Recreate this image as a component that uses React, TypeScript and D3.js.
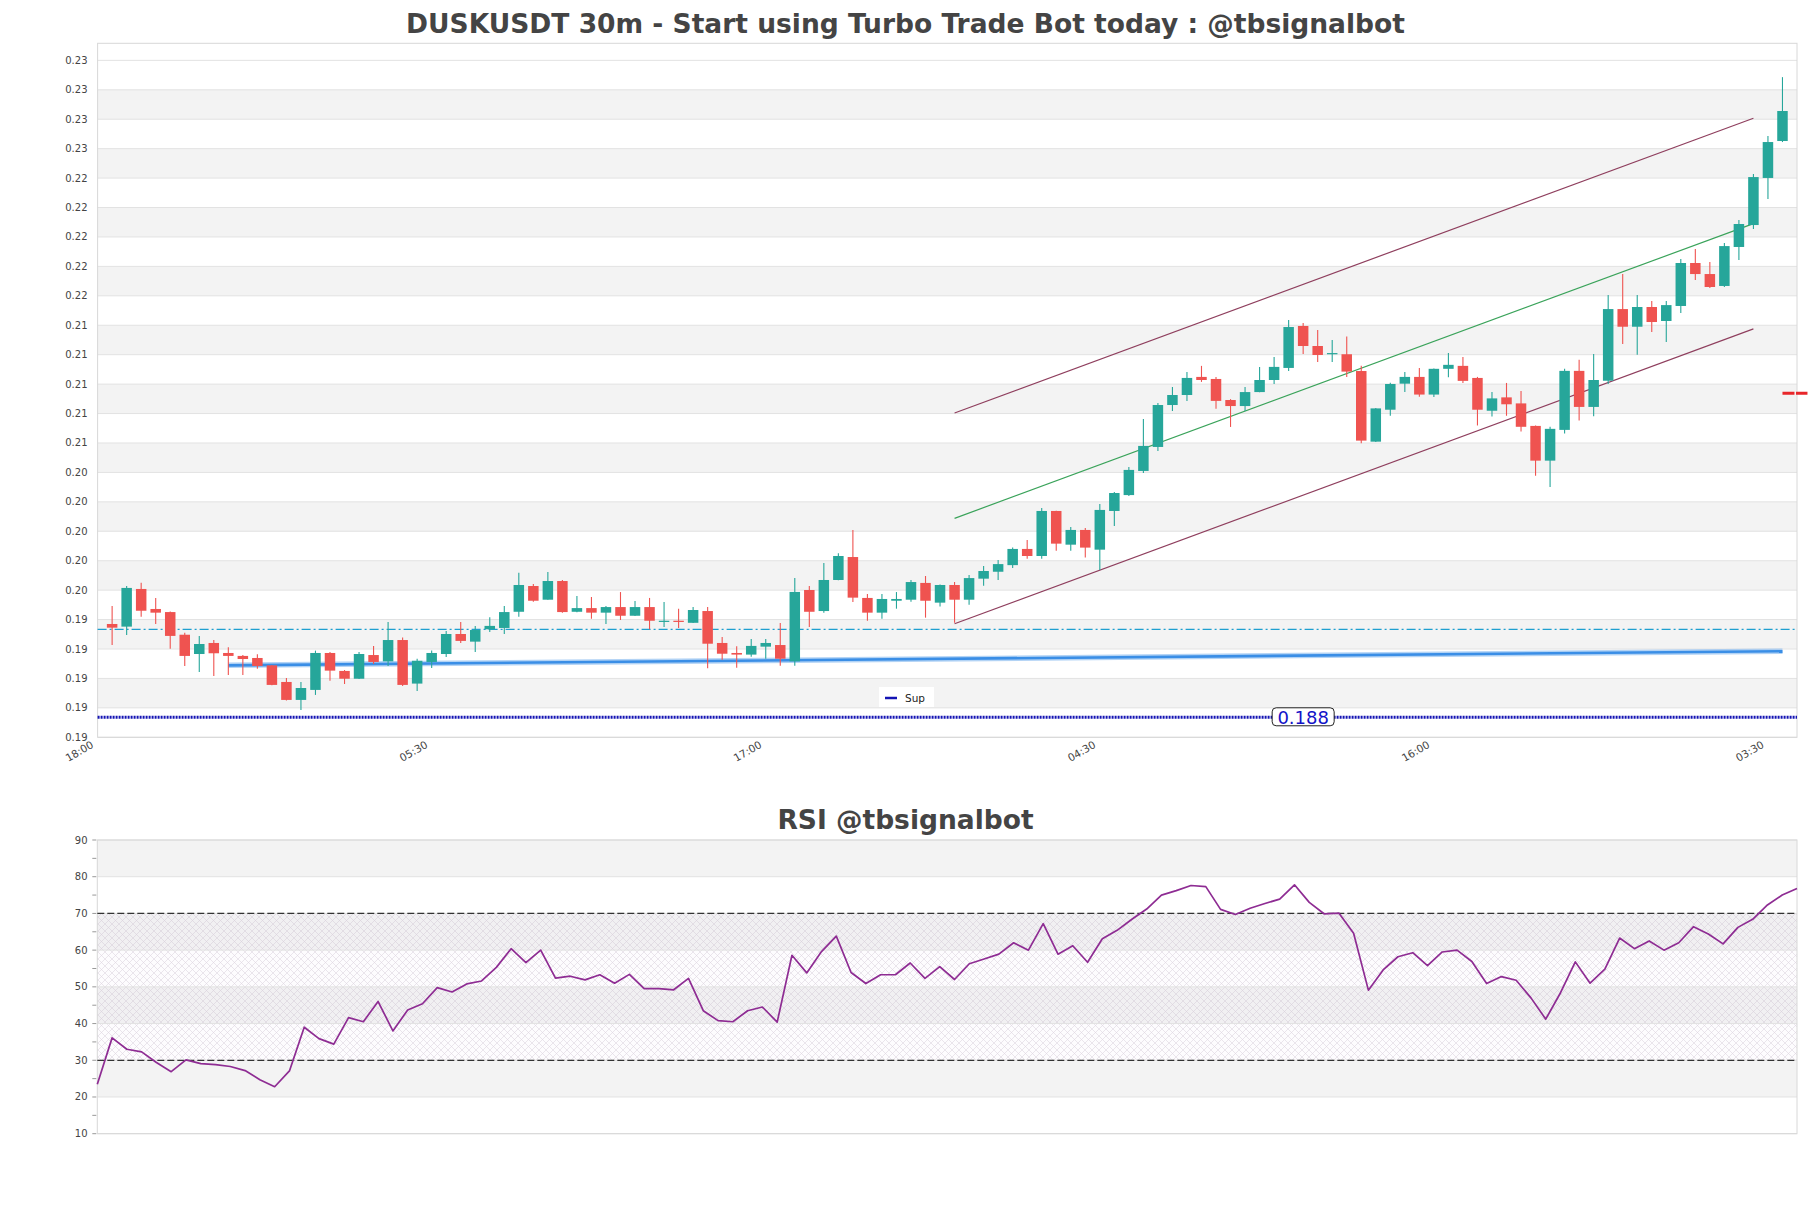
import React, { useRef, useEffect } from "react";
import * as d3 from "d3";

// 30m candles, first one at 18:30
const START = new Date(2024, 0, 1, 18, 30);
const STEP = 30 * 60 * 1000;
const TICK_EVERY = 23; // one x label every 11h30

const OPEN = [
  0.1937, 0.19352, 0.19608, 0.19472, 0.19451, 0.19297, 0.19166, 0.19241, 0.19173, 0.19153,
  0.19139, 0.19089, 0.18976, 0.18854, 0.18922, 0.19173, 0.19051, 0.18998, 0.19159, 0.19116,
  0.19261, 0.18965, 0.19112, 0.19166, 0.19302, 0.1925, 0.19334, 0.19343, 0.19453, 0.19628,
  0.19535, 0.19662, 0.19453, 0.19478, 0.19447, 0.19485, 0.19426, 0.19485, 0.19385, 0.19392,
  0.19378, 0.19458, 0.19241, 0.19173, 0.19162, 0.19216, 0.19227, 0.19116, 0.19601, 0.19458,
  0.19669, 0.19825, 0.19547, 0.19447, 0.19528, 0.19535, 0.19649, 0.19515, 0.19635, 0.19535,
  0.19678, 0.19725, 0.1977, 0.1988, 0.19832, 0.20138, 0.19909, 0.20009, 0.19875, 0.20138,
  0.20246, 0.2041, 0.20573, 0.20858, 0.20926, 0.21049, 0.21035, 0.20892, 0.20851, 0.20946,
  0.21028, 0.2111, 0.21395, 0.21259, 0.21203, 0.21203, 0.21089, 0.20609, 0.20826, 0.21003,
  0.21049, 0.20929, 0.21104, 0.21124, 0.21042, 0.20819, 0.2091, 0.20869, 0.20716, 0.2048,
  0.20689, 0.2109, 0.20845, 0.21023, 0.2151, 0.2139, 0.21524, 0.21429, 0.21531, 0.21823,
  0.21748, 0.21667, 0.21932, 0.22081, 0.22401, 0.22652,
];
const HIGH = [
  0.19492, 0.19628, 0.19651, 0.19547, 0.19455, 0.19311, 0.19289, 0.19261, 0.19212, 0.19159,
  0.19164, 0.19092, 0.19003, 0.18976, 0.19189, 0.1918, 0.19057, 0.1918, 0.19221, 0.19383,
  0.19279, 0.19134, 0.19189, 0.19323, 0.19383, 0.19357, 0.19415, 0.19492, 0.19719, 0.19642,
  0.19723, 0.19669, 0.1956, 0.19553, 0.19492, 0.19587, 0.19526, 0.19547, 0.19519, 0.19474,
  0.19485, 0.19485, 0.19281, 0.19218, 0.19268, 0.19268, 0.19377, 0.19683, 0.19628, 0.19785,
  0.1985, 0.20009, 0.19574, 0.19574, 0.19587, 0.19669, 0.19696, 0.19638, 0.19655, 0.19703,
  0.19764, 0.19805, 0.19889, 0.19941, 0.20158, 0.2014, 0.20029, 0.20022, 0.20185, 0.20267,
  0.20437, 0.20763, 0.20872, 0.20981, 0.21083, 0.21124, 0.21049, 0.20898, 0.2098, 0.21117,
  0.21185, 0.21436, 0.21415, 0.21368, 0.213, 0.21323, 0.21124, 0.20837, 0.2101, 0.21083,
  0.2111, 0.21106, 0.21212, 0.21185, 0.21049, 0.20946, 0.21008, 0.20953, 0.20718, 0.2071,
  0.21104, 0.21165, 0.21205, 0.21606, 0.21748, 0.21606, 0.21565, 0.21565, 0.2185, 0.21918,
  0.2183, 0.21959, 0.22115, 0.22428, 0.22686, 0.23086,
];
const LOW = [
  0.19227, 0.19295, 0.1942, 0.1937, 0.19202, 0.19085, 0.19044, 0.19017, 0.19024, 0.19024,
  0.19066, 0.18954, 0.1885, 0.18786, 0.18888, 0.18985, 0.18962, 0.18996, 0.19098, 0.19085,
  0.18949, 0.18915, 0.19071, 0.19146, 0.19241, 0.1918, 0.19316, 0.19302, 0.1942, 0.19521,
  0.19535, 0.19447, 0.1945, 0.19406, 0.1937, 0.19397, 0.19424, 0.19334, 0.1935, 0.19343,
  0.19376, 0.19069, 0.19127, 0.19072, 0.19148, 0.19134, 0.19087, 0.19087, 0.1935, 0.19447,
  0.19667, 0.19519, 0.19392, 0.19406, 0.19474, 0.19521, 0.19413, 0.19488, 0.19378, 0.19501,
  0.1963, 0.19669, 0.1975, 0.19814, 0.19814, 0.19868, 0.19868, 0.19821, 0.19737, 0.20036,
  0.2024, 0.20396, 0.20546, 0.20818, 0.20885, 0.21015, 0.20832, 0.20709, 0.20817, 0.20944,
  0.21001, 0.2109, 0.21205, 0.2115, 0.2115, 0.21048, 0.20598, 0.20606, 0.20785, 0.20947,
  0.20914, 0.20913, 0.21046, 0.21008, 0.20719, 0.2078, 0.20785, 0.20678, 0.20377, 0.20301,
  0.20665, 0.20753, 0.20781, 0.21001, 0.21272, 0.212, 0.21354, 0.21286, 0.21483, 0.21707,
  0.21653, 0.2166, 0.21843, 0.22054, 0.22258, 0.22645,
];
const CLOSE = [
  0.19345, 0.19615, 0.1946, 0.19447, 0.19289, 0.19153, 0.19234, 0.19171, 0.19153, 0.19132,
  0.19085, 0.18956, 0.18854, 0.18935, 0.19173, 0.19053, 0.18998, 0.19166, 0.19112, 0.19261,
  0.18956, 0.1912, 0.19173, 0.19302, 0.19255, 0.19329, 0.19357, 0.19451, 0.19635, 0.19528,
  0.19662, 0.19451, 0.19478, 0.19447, 0.19485, 0.19426, 0.19485, 0.19392, 0.19392, 0.19385,
  0.19465, 0.19236, 0.19168, 0.19162, 0.19221, 0.19241, 0.19134, 0.19588, 0.19453, 0.19669,
  0.19832, 0.19549, 0.19447, 0.1954, 0.1954, 0.19655, 0.19528, 0.19635, 0.19535, 0.19682,
  0.1973, 0.19777, 0.1988, 0.19832, 0.20138, 0.19916, 0.20009, 0.19889, 0.20145, 0.2026,
  0.20417, 0.2058, 0.20858, 0.20926, 0.21042, 0.21028, 0.20886, 0.20851, 0.20946, 0.21028,
  0.21117, 0.21388, 0.21259, 0.21198, 0.21211, 0.21085, 0.20616, 0.20835, 0.21001, 0.21049,
  0.20929, 0.21104, 0.21131, 0.21022, 0.20826, 0.20903, 0.20863, 0.2071, 0.2048, 0.20696,
  0.2109, 0.20845, 0.21028, 0.2151, 0.2139, 0.21524, 0.21422, 0.21537, 0.21823, 0.21748,
  0.2166, 0.21938, 0.22088, 0.22407, 0.22645, 0.22856,
];

const RSI = [
  23.5, 36.1, 33.0, 32.3, 29.4, 26.9, 30.1, 29.1, 28.8, 28.3, 27.2,
  24.7, 22.8, 27.1, 39.0, 35.9, 34.4, 41.6, 40.5, 46.0, 38.0,
  43.7, 45.4, 49.8, 48.6, 50.8, 51.6, 55.3, 60.4, 56.6, 60.0,
  52.4, 52.9, 51.9, 53.3, 51.0, 53.4, 49.5, 49.5, 49.2, 52.3,
  43.5, 40.8, 40.5, 43.5, 44.5, 40.4, 58.6, 53.8, 59.6, 63.8,
  53.9, 50.9, 53.3, 53.3, 56.5, 52.3, 55.5, 52.0, 56.3, 57.6,
  58.9, 62.0, 60.0, 67.2, 58.9, 61.2, 56.7, 63.1, 65.4, 68.4,
  71.2, 75.0, 76.2, 77.6, 77.3, 71.1, 69.7, 71.4, 72.7, 73.9,
  77.8, 73.0, 69.9, 70.1, 64.6, 49.1, 54.6, 58.2, 59.3, 55.8,
  59.5, 60.0, 56.9, 50.9, 52.8, 51.8, 47.0, 41.2, 48.4, 56.8,
  51.0, 54.8, 63.3, 60.4, 62.5, 60.0, 62.0, 66.4, 64.4, 61.7,
  66.2, 68.4, 72.3, 75.0, 76.8,
];

const PRICE_TICKS = [
  0.186, 0.188, 0.19, 0.192, 0.194, 0.196, 0.198, 0.2, 0.202, 0.204, 0.206, 0.208,
  0.21, 0.212, 0.214, 0.216, 0.218, 0.22, 0.222, 0.224, 0.226, 0.228, 0.23, 0.232,
];
const PRICE_MAX = 0.23316;
const RSI_TICKS = [10, 20, 30, 40, 50, 60, 70, 80, 90];
const RSI_MINOR = [15, 25, 35, 45, 55, 65, 75, 85];
const RSI_BANDS = [[20, 30], [40, 50], [60, 70], [80, 90]];
const RSI_ZONE = [30, 70];

// overlays
const DASH_LEVEL = 0.19334;
const SUP_LEVEL = 0.18736;
const SUP_LABEL = "0.188";
const SUP_LABEL_IDX = 82;
const TREND_IDX = [8, 115];
const TREND_VAL = [0.19089, 0.19185];
const CHANNEL_IDX = [58, 113];
const CHANNEL_MID = [0.20088, 0.22091];
const CHANNEL_HALF = 0.00716;
const LAST_MARK = 0.20938;

const UP = "#26a69a";
const DOWN = "#ef5350";
const FONT = "DejaVu Sans, Verdana, sans-serif";

function App() {
  const svgRef = useRef<SVGSVGElement>(null);
  const width = 1811;
  const height = 1208;

  useEffect(() => {
    const svg = d3.select(svgRef.current);
    svg.selectAll("*").remove();

    const times = OPEN.map((_, i) => new Date(START.getTime() + i * STEP));
    const tAt = (i: number) => new Date(START.getTime() + i * STEP);

    // ---------- price panel ----------
    const m = { left: 97.6, right: 1797, top: 43.3, bottom: 737.3 };
    const x = d3.scaleTime()
      .domain([tAt(-1), tAt(OPEN.length)])
      .range([m.left, m.right]);
    const y = d3.scaleLinear()
      .domain([PRICE_TICKS[0], PRICE_MAX])
      .range([m.bottom, m.top]);

    const defs = svg.append("defs");
    const pat = defs.append("pattern")
      .attr("id", "rsiHatch")
      .attr("patternUnits", "userSpaceOnUse")
      .attr("width", 7)
      .attr("height", 7);
    pat.append("path")
      .attr("d", "M0,0 L7,7 M7,0 L0,7")
      .attr("stroke", "#c4b6ca")
      .attr("stroke-width", 0.55)
      .attr("opacity", 0.6);

    svg.append("text")
      .attr("x", width / 2)
      .attr("y", 32.5)
      .attr("text-anchor", "middle")
      .attr("font-family", FONT)
      .attr("font-weight", "bold")
      .attr("font-size", 26.5)
      .attr("fill", "#444")
      .text("DUSKUSDT 30m - Start using Turbo Trade Bot today : @tbsignalbot");

    const pg = svg.append("g");

    // alternating bands
    pg.append("g")
      .selectAll("rect")
      .data(PRICE_TICKS.slice(0, -1).map((t, i) => [t, PRICE_TICKS[i + 1], i]).filter(d => d[2] % 2 === 1))
      .join("rect")
      .attr("x", m.left)
      .attr("width", m.right - m.left)
      .attr("y", d => y(d[1]))
      .attr("height", d => y(d[0]) - y(d[1]))
      .attr("fill", "#f3f3f3");

    pg.append("g")
      .selectAll("line")
      .data(PRICE_TICKS)
      .join("line")
      .attr("x1", m.left)
      .attr("x2", m.right)
      .attr("y1", d => y(d))
      .attr("y2", d => y(d))
      .attr("stroke", "#e2e2e2");

    pg.append("rect")
      .attr("x", m.left)
      .attr("y", m.top)
      .attr("width", m.right - m.left)
      .attr("height", m.bottom - m.top)
      .attr("fill", "none")
      .attr("stroke", "#d8d8d8");

    pg.append("g")
      .selectAll("text")
      .data(PRICE_TICKS)
      .join("text")
      .attr("x", 87.5)
      .attr("y", d => y(d))
      .attr("dy", "0.35em")
      .attr("text-anchor", "end")
      .attr("font-family", FONT)
      .attr("font-size", 10)
      .attr("fill", "#444")
      .text(d => d3.format(".2f")(d));

    // x labels
    const xTicks = d3.range(6).map(k => tAt(-1 + k * TICK_EVERY));
    pg.append("g")
      .selectAll("text")
      .data(xTicks)
      .join("text")
      .attr("transform", d => `translate(${x(d) - 7},${m.bottom + 3}) rotate(-30)`)
      .attr("dy", "0.72em")
      .attr("text-anchor", "end")
      .attr("font-family", FONT)
      .attr("font-size", 10.5)
      .attr("fill", "#444")
      .text(d => d3.timeFormat("%H:%M")(d));

    // support / resistance levels
    pg.append("line")
      .attr("x1", m.left).attr("x2", m.right)
      .attr("y1", y(DASH_LEVEL)).attr("y2", y(DASH_LEVEL))
      .attr("stroke", "#1e9fd0")
      .attr("stroke-width", 1.3)
      .attr("stroke-dasharray", "9 3 2 3");

    pg.append("line")
      .attr("x1", m.left).attr("x2", m.right)
      .attr("y1", y(SUP_LEVEL)).attr("y2", y(SUP_LEVEL))
      .attr("stroke", "#1414b4")
      .attr("stroke-width", 3)
      .attr("stroke-dasharray", "2 1");

    // rising trend line (glow + core)
    const trend = TREND_IDX.map((t, i) => [x(tAt(t)), y(TREND_VAL[i])]);
    pg.append("line")
      .attr("x1", trend[0][0]).attr("y1", trend[0][1])
      .attr("x2", trend[1][0]).attr("y2", trend[1][1])
      .attr("stroke", "#7fb6f0")
      .attr("stroke-width", 5.5)
      .attr("opacity", 0.6);
    pg.append("line")
      .attr("x1", trend[0][0]).attr("y1", trend[0][1])
      .attr("x2", trend[1][0]).attr("y2", trend[1][1])
      .attr("stroke", "#3a8ee6")
      .attr("stroke-width", 2.6);

    // regression channel
    const channel = [
      { off: CHANNEL_HALF, color: "#8f3f5e" },
      { off: 0, color: "#3aa35a" },
      { off: -CHANNEL_HALF, color: "#8f3f5e" },
    ];
    pg.append("g")
      .selectAll("line")
      .data(channel)
      .join("line")
      .attr("x1", x(tAt(CHANNEL_IDX[0])))
      .attr("x2", x(tAt(CHANNEL_IDX[1])))
      .attr("y1", d => y(CHANNEL_MID[0] + d.off))
      .attr("y2", d => y(CHANNEL_MID[1] + d.off))
      .attr("stroke", d => d.color)
      .attr("stroke-width", 1.2);

    // candles
    const bodyW = 10.5;
    const cg = pg.append("g")
      .selectAll("g")
      .data(times.map((t, i) => ({ t, o: OPEN[i], h: HIGH[i], l: LOW[i], c: CLOSE[i] })))
      .join("g");
    cg.append("line")
      .attr("x1", d => x(d.t))
      .attr("x2", d => x(d.t))
      .attr("y1", d => y(d.h))
      .attr("y2", d => y(d.l))
      .attr("stroke", d => (d.c >= d.o ? UP : DOWN))
      .attr("stroke-width", 1.1);
    cg.append("rect")
      .attr("x", d => x(d.t) - bodyW / 2)
      .attr("width", bodyW)
      .attr("y", d => y(Math.max(d.o, d.c)))
      .attr("height", d => Math.max(1.2, Math.abs(y(d.o) - y(d.c))))
      .attr("fill", d => (d.c >= d.o ? UP : DOWN));

    // last price marker
    pg.append("line")
      .attr("x1", x(tAt(OPEN.length - 1)))
      .attr("x2", x(tAt(OPEN.length - 1)) + 25)
      .attr("y1", y(LAST_MARK)).attr("y2", y(LAST_MARK))
      .attr("stroke", "#e8262a")
      .attr("stroke-width", 3)
      .attr("stroke-dasharray", "12 1.5");

    // support label
    const lx = x(tAt(SUP_LABEL_IDX));
    pg.append("rect")
      .attr("x", lx - 31).attr("y", y(SUP_LEVEL) - 9.5)
      .attr("width", 62).attr("height", 18)
      .attr("rx", 4)
      .attr("fill", "#fff")
      .attr("stroke", "#222")
      .attr("stroke-width", 1);
    pg.append("text")
      .attr("x", lx).attr("y", y(SUP_LEVEL))
      .attr("dy", "0.36em")
      .attr("text-anchor", "middle")
      .attr("font-family", FONT)
      .attr("font-size", 18)
      .attr("fill", "#1212c8")
      .text(SUP_LABEL);

    // legend
    const lg = pg.append("g").attr("transform", "translate(879,687)");
    lg.append("rect").attr("width", 55).attr("height", 20).attr("fill", "#fff");
    lg.append("line").attr("x1", 6).attr("x2", 18).attr("y1", 11).attr("y2", 11)
      .attr("stroke", "#1414b4").attr("stroke-width", 2.5);
    lg.append("text").attr("x", 26).attr("y", 11).attr("dy", "0.35em")
      .attr("font-family", FONT).attr("font-size", 10.5).attr("fill", "#222")
      .text("Sup");

    // ---------- RSI panel ----------
    const r = { left: 97.3, right: 1797, top: 840, bottom: 1133.7 };
    const xr = d3.scaleTime()
      .domain(d3.extent(times) as [Date, Date])
      .range([r.left, r.right]);
    const yr = d3.scaleLinear().domain([10, 90]).range([r.bottom, r.top]);

    svg.append("text")
      .attr("x", width / 2)
      .attr("y", 829)
      .attr("text-anchor", "middle")
      .attr("font-family", FONT)
      .attr("font-weight", "bold")
      .attr("font-size", 26.5)
      .attr("fill", "#444")
      .text("RSI @tbsignalbot");

    const rg = svg.append("g");
    rg.append("g")
      .selectAll("rect")
      .data(RSI_BANDS)
      .join("rect")
      .attr("x", r.left)
      .attr("width", r.right - r.left)
      .attr("y", d => yr(d[1]))
      .attr("height", d => yr(d[0]) - yr(d[1]))
      .attr("fill", "#f3f3f3");

    rg.append("rect")
      .attr("x", r.left)
      .attr("width", r.right - r.left)
      .attr("y", yr(RSI_ZONE[1]))
      .attr("height", yr(RSI_ZONE[0]) - yr(RSI_ZONE[1]))
      .attr("fill", "rgba(200,160,215,0.03)");
    rg.append("rect")
      .attr("x", r.left)
      .attr("width", r.right - r.left)
      .attr("y", yr(RSI_ZONE[1]))
      .attr("height", yr(RSI_ZONE[0]) - yr(RSI_ZONE[1]))
      .attr("fill", "url(#rsiHatch)");

    rg.append("g")
      .selectAll("line")
      .data(RSI_TICKS)
      .join("line")
      .attr("x1", r.left)
      .attr("x2", r.right)
      .attr("y1", d => yr(d))
      .attr("y2", d => yr(d))
      .attr("stroke", "#e2e2e2");

    rg.append("rect")
      .attr("x", r.left)
      .attr("y", r.top)
      .attr("width", r.right - r.left)
      .attr("height", r.bottom - r.top)
      .attr("fill", "none")
      .attr("stroke", "#d8d8d8");

    rg.append("g")
      .selectAll("line")
      .data([...RSI_TICKS, ...RSI_MINOR])
      .join("line")
      .attr("x1", r.left - 5)
      .attr("x2", r.left - 1)
      .attr("y1", d => yr(d))
      .attr("y2", d => yr(d))
      .attr("stroke", "#999");

    rg.append("g")
      .selectAll("text")
      .data(RSI_TICKS)
      .join("text")
      .attr("x", 87.5)
      .attr("y", d => yr(d))
      .attr("dy", "0.35em")
      .attr("text-anchor", "end")
      .attr("font-family", FONT)
      .attr("font-size", 10)
      .attr("fill", "#444")
      .text(d => d);

    rg.append("g")
      .selectAll("line")
      .data(RSI_ZONE)
      .join("line")
      .attr("x1", r.left)
      .attr("x2", r.right)
      .attr("y1", d => yr(d))
      .attr("y2", d => yr(d))
      .attr("stroke", "#333")
      .attr("stroke-width", 1.2)
      .attr("stroke-dasharray", "7 3");

    const rsiLine = d3.line<number>()
      .x((_, i) => xr(times[i]))
      .y(d => yr(d));
    rg.append("path")
      .datum(RSI)
      .attr("d", rsiLine)
      .attr("fill", "none")
      .attr("stroke", "#8e2c93")
      .attr("stroke-width", 1.7)
      .attr("stroke-linejoin", "round");
  }, []);

  return (
    <svg
      ref={svgRef}
      width={width}
      height={height}
      viewBox={`0 0 ${width} ${height}`}
      style={{ position: "fixed", left: 0, top: 0, background: "#fff" }}
    />
  );
}

export default App;
